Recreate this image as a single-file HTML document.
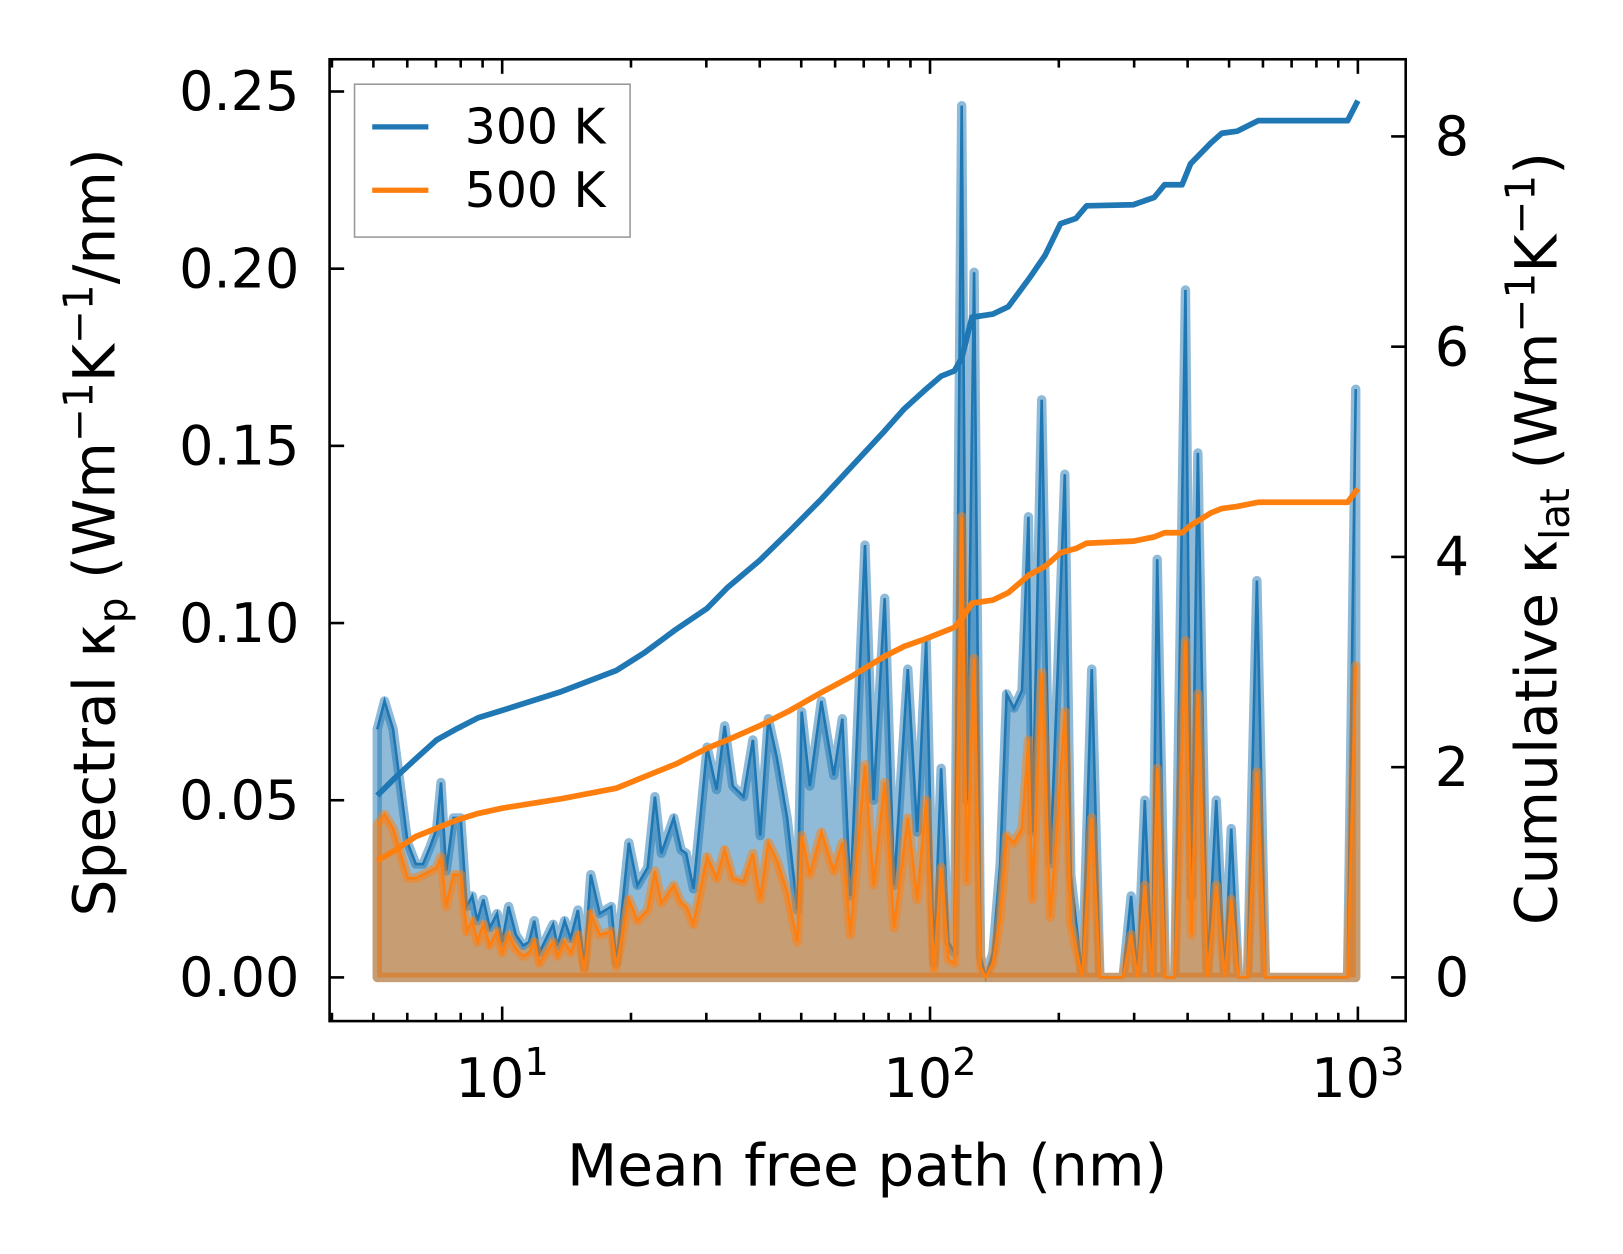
<!DOCTYPE html>
<html><head><meta charset="utf-8"><style>
html,body{margin:0;padding:0;background:#fff;}
svg{display:block;font-family:"DejaVu Sans","Liberation Sans",sans-serif;}
</style></head><body>
<svg id="chart" width="1623" height="1254" viewBox="0 0 1561 1206" preserveAspectRatio="none" xmlns="http://www.w3.org/2000/svg"></svg>
<script>
// ---- data (x values are log10 of mean free path in nm) ----
const specLog300 = [0.708,0.725,0.745,0.779,0.798,0.815,0.832,0.847,0.857,0.869,0.886,0.903,0.917,0.930,0.942,0.956,0.971,0.988,1.000,1.015,1.032,1.049,1.063,1.075,1.087,1.119,1.129,1.146,1.160,1.177,1.192,1.207,1.228,1.255,1.267,1.296,1.316,1.340,1.357,1.372,1.401,1.418,1.430,1.447,1.479,1.501,1.520,1.539,1.564,1.586,1.603,1.622,1.642,1.666,1.690,1.700,1.719,1.746,1.775,1.795,1.814,1.848,1.868,1.894,1.916,1.948,1.970,1.991,2.009,2.026,2.043,2.057,2.074,2.086,2.103,2.118,2.130,2.147,2.164,2.179,2.196,2.215,2.230,2.239,2.261,2.281,2.298,2.315,2.329,2.356,2.378,2.397,2.451,2.470,2.485,2.502,2.519,2.531,2.550,2.572,2.597,2.611,2.626,2.648,2.669,2.689,2.704,2.721,2.742,2.764,2.784,2.976,2.995];
const spec300 = [0.070,0.078,0.070,0.038,0.032,0.032,0.037,0.042,0.055,0.030,0.045,0.045,0.020,0.023,0.016,0.022,0.014,0.018,0.010,0.020,0.012,0.009,0.010,0.016,0.007,0.015,0.009,0.016,0.011,0.019,0.003,0.029,0.018,0.020,0.004,0.038,0.026,0.031,0.051,0.035,0.045,0.036,0.035,0.025,0.065,0.053,0.071,0.054,0.051,0.067,0.040,0.073,0.062,0.045,0.019,0.075,0.054,0.078,0.057,0.073,0.023,0.122,0.050,0.107,0.026,0.087,0.041,0.095,0.004,0.059,0.010,0.007,0.246,0.050,0.199,0.006,0.000,0.007,0.032,0.080,0.076,0.081,0.130,0.041,0.163,0.032,0.085,0.142,0.029,0.000,0.087,0.000,0.000,0.023,0.000,0.050,0.000,0.118,0.000,0.000,0.194,0.023,0.148,0.000,0.050,0.000,0.042,0.000,0.000,0.112,0.000,0.000,0.166];
const spec500 = [0.043,0.046,0.042,0.028,0.028,0.029,0.030,0.031,0.034,0.020,0.029,0.029,0.013,0.016,0.010,0.015,0.009,0.013,0.007,0.012,0.008,0.006,0.007,0.010,0.004,0.010,0.006,0.010,0.007,0.012,0.002,0.018,0.012,0.013,0.003,0.022,0.016,0.019,0.030,0.021,0.026,0.021,0.020,0.015,0.034,0.028,0.036,0.028,0.027,0.035,0.022,0.038,0.033,0.024,0.010,0.040,0.029,0.041,0.030,0.038,0.012,0.060,0.026,0.055,0.014,0.045,0.022,0.050,0.002,0.031,0.005,0.004,0.130,0.027,0.090,0.003,0.000,0.004,0.017,0.040,0.038,0.042,0.067,0.022,0.086,0.017,0.044,0.075,0.015,0.000,0.045,0.000,0.000,0.012,0.000,0.026,0.000,0.059,0.000,0.000,0.095,0.012,0.080,0.000,0.026,0.000,0.022,0.000,0.000,0.058,0.000,0.000,0.088];
const cumLog = [0.708,0.750,0.798,0.847,0.896,0.944,1.000,1.139,1.267,1.333,1.406,1.479,1.527,1.600,1.673,1.746,1.819,1.892,1.940,1.989,2.026,2.057,2.074,2.098,2.147,2.183,2.232,2.269,2.305,2.341,2.366,2.475,2.524,2.548,2.589,2.609,2.657,2.682,2.718,2.767,2.976,3.000];
const cum300 = [1.73,1.90,2.08,2.26,2.37,2.47,2.54,2.72,2.92,3.09,3.31,3.51,3.71,3.96,4.25,4.55,4.87,5.19,5.41,5.59,5.72,5.77,5.89,6.28,6.31,6.38,6.65,6.87,7.17,7.22,7.34,7.35,7.42,7.54,7.54,7.74,7.94,8.03,8.05,8.15,8.15,8.34];
const cum500 = [1.11,1.21,1.34,1.42,1.50,1.56,1.61,1.70,1.80,1.91,2.03,2.18,2.26,2.39,2.54,2.71,2.87,3.05,3.15,3.22,3.28,3.33,3.41,3.56,3.59,3.66,3.83,3.91,4.04,4.08,4.13,4.15,4.19,4.23,4.23,4.30,4.42,4.46,4.48,4.52,4.52,4.65];
const leftTicks = [0.00,0.05,0.10,0.15,0.20,0.25];
const leftTickLabels = ["0.00","0.05","0.10","0.15","0.20","0.25"];
const rightTicks = [0,2,4,6,8];
const xDecades = [1,2,3];

// ---- axes ----
const AX={l:317,r:1352,t:57,b:982};
const xs = e => 483 + (e-1)*411.5;
const yL = v => 940 - v*3408;
const yR = v => 940 - v*101.1;
const NS="http://www.w3.org/2000/svg";
const svg=document.getElementById('chart');
function mk(tag,attrs,parent){const e=document.createElementNS(NS,tag);for(const k in attrs)e.setAttribute(k,attrs[k]);(parent||svg).appendChild(e);return e;}

const plot=mk('g',{});



function areaPath(xsArr,vals){let d=`M${xs(xsArr[0])},${yL(0)}`;xsArr.forEach((e,i)=>d+=`L${xs(e)},${yL(vals[i])}`);d+=`L${xs(xsArr[xsArr.length-1])},${yL(0)}Z`;return d;}
function linePath(xsArr,vals,yf){return xsArr.map((e,i)=>(i?'L':'M')+xs(e)+','+yf(vals[i])).join('');}

const a1=mk('path',{d:areaPath(specLog300,spec300),fill:'#1f77b4','fill-opacity':0.5,stroke:'#1f77b4','stroke-opacity':0.5,'stroke-width':9,'stroke-linejoin':'round'},plot);


const l1=mk('path',{d:linePath(specLog300,spec300,yL),fill:'none',stroke:'#1f77b4','stroke-width':2.5},plot);


const a2=mk('path',{d:areaPath(specLog300,spec500),fill:'#ff7f0e','fill-opacity':0.5,stroke:'#ff7f0e','stroke-opacity':0.5,'stroke-width':9,'stroke-linejoin':'round'},plot);


const l2=mk('path',{d:linePath(specLog300,spec500,yL),fill:'none',stroke:'#ff7f0e','stroke-width':2.5},plot);


const c1=mk('path',{d:linePath(cumLog,cum300,yR),fill:'none',stroke:'#1f77b4','stroke-width':5.5,'stroke-linejoin':'round'},plot);


const c2=mk('path',{d:linePath(cumLog,cum500,yR),fill:'none',stroke:'#ff7f0e','stroke-width':5.5,'stroke-linejoin':'round'},plot);



// frame
const fr=mk('rect',{x:AX.l,y:AX.t,width:AX.r-AX.l,height:AX.b-AX.t,fill:'none',stroke:'#000','stroke-width':2.5});



// x ticks
const xt=mk('g',{stroke:'#000','stroke-width':2.5});


for(let d=0;d<=3;d++){for(let m=1;m<10;m++){const e=d+Math.log10(m);const x=xs(e);if(x<AX.l||x>AX.r)continue;const L=m===1?14:8;
mk('line',{x1:x,x2:x,y1:AX.b,y2:AX.b-L},xt);mk('line',{x1:x,x2:x,y1:AX.t,y2:AX.t+L},xt);}}
xDecades.forEach(p=>{const t=mk('text',{x:xs(p),y:1055,'font-size':52,'text-anchor':'middle',fill:'#000'});


t.innerHTML=`10<tspan dy="-21" font-size="37">${p}</tspan>`;});

// left ticks
leftTicks.forEach((v,i)=>{mk('line',{x1:AX.l,x2:AX.l+14,y1:yL(v),y2:yL(v),stroke:'#000','stroke-width':2.5});
const t=mk('text',{x:288,y:yL(v)+18,'font-size':52,'text-anchor':'end',fill:'#000'});


t.textContent=leftTickLabels[i];});
// right ticks
rightTicks.forEach(v=>{mk('line',{x1:AX.r,x2:AX.r-14,y1:yR(v),y2:yR(v),stroke:'#000','stroke-width':2.5});
const t=mk('text',{x:1380,y:yR(v)+18,'font-size':52,'text-anchor':'start',fill:'#000'});


t.textContent=String(v);});

// axis titles
const xl=mk('text',{x:834,y:1140,'font-size':56,'text-anchor':'middle',fill:'#000'});


xl.textContent='Mean free path (nm)';
const yl=mk('text',{transform:'translate(110,512) rotate(-90)','font-size':56,'text-anchor':'middle',fill:'#000'});


yl.innerHTML='Spectral κ<tspan dy="12" font-size="39">p</tspan><tspan dy="-12"> (Wm</tspan><tspan dy="-21" font-size="39">−1</tspan><tspan dy="21">K</tspan><tspan dy="-21" font-size="39">−1</tspan><tspan dy="21">/nm)</tspan>';
const yr=mk('text',{transform:'translate(1497,518) rotate(-90)','font-size':56,'text-anchor':'middle',fill:'#000'});


yr.innerHTML='Cumulative κ<tspan dy="12" font-size="39">lat</tspan><tspan dy="-12"> (Wm</tspan><tspan dy="-21" font-size="39">−1</tspan><tspan dy="21">K</tspan><tspan dy="-21" font-size="39">−1</tspan><tspan dy="21">)</tspan>';

// legend
const lg=mk('g',{});


mk('rect',{x:341,y:81,width:265,height:147,fill:'#fff','fill-opacity':0.8,stroke:'#999','stroke-width':1.5},lg);
[['300 K','#1f77b4',122],['500 K','#ff7f0e',183]].forEach(([lab,c,y])=>{
const e=mk('g',{},lg);


mk('line',{x1:358,x2:412,y1:y,y2:y,stroke:c,'stroke-width':5},e);
const t=mk('text',{x:447,y:y+16,'font-size':47,fill:'#000'},e);t.textContent=lab;});
</script>
</body></html>
